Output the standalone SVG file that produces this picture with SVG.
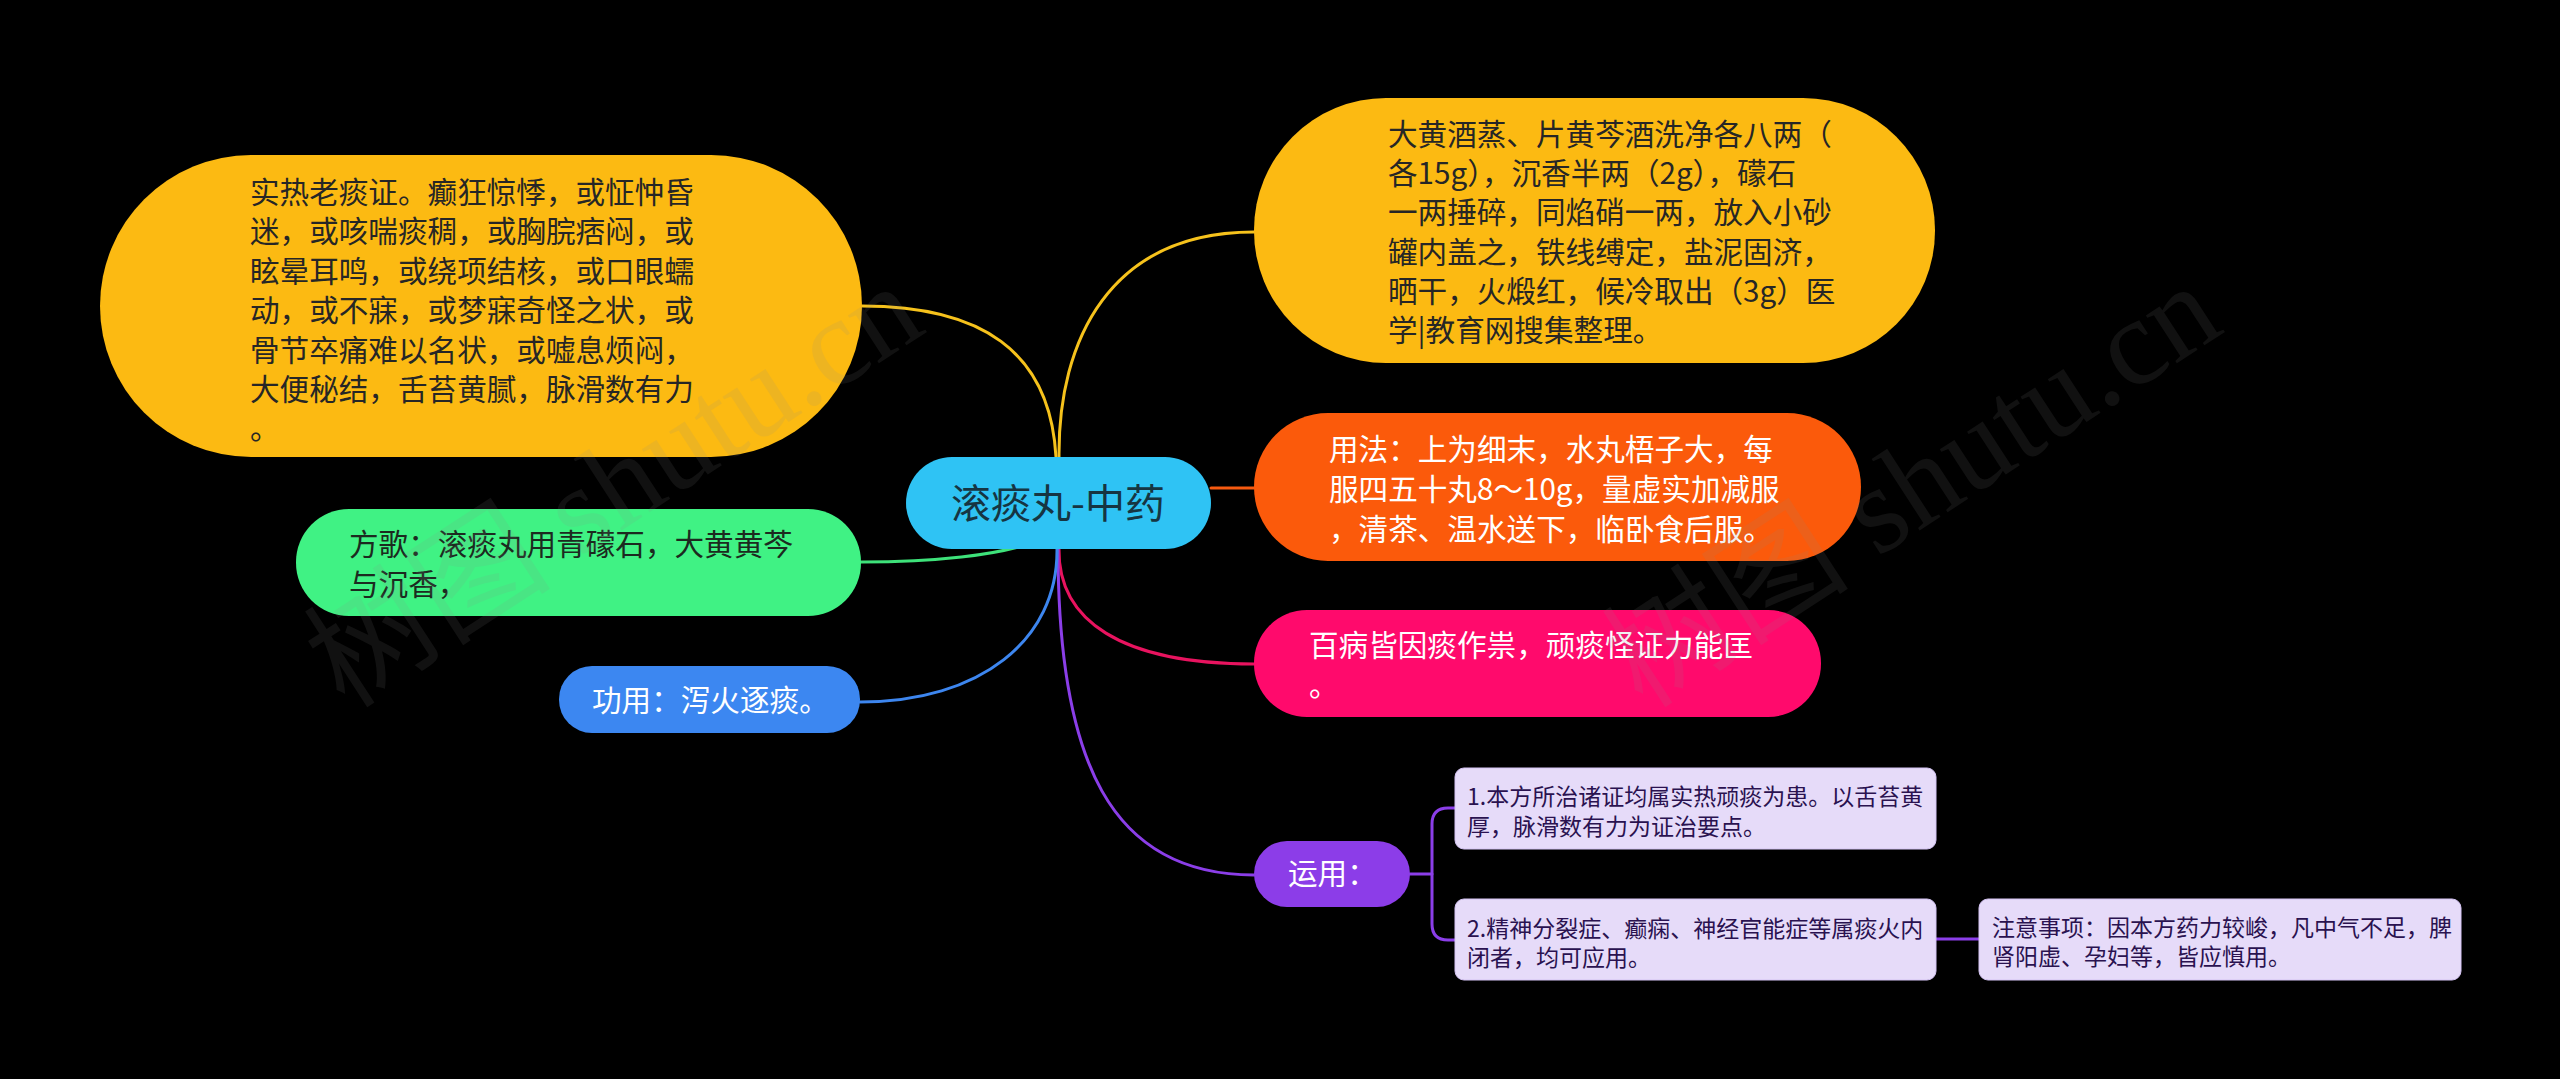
<svg xmlns="http://www.w3.org/2000/svg" width="2560" height="1079" viewBox="0 0 2560 1079">
<style>
text{font-family:"Noto Sans CJK SC","Microsoft YaHei",sans-serif;}
.t{font-size:29.6px;}
.s{font-size:23px;fill:#2a1250;}
.dk{fill:#262626;}
.wt{fill:#ffffff;}
.ln{fill:none;stroke-width:3;stroke-linecap:round;}
.ch{fill:#e6dbf9;stroke:#d4c3f3;stroke-width:1;}
.wm{font-family:"Liberation Serif","Noto Sans CJK SC",serif;font-size:124px;fill:#8a8a8a;opacity:0.12;}
</style>
<rect x="0" y="0" width="2560" height="1079" fill="#000000"/>
<g id="connectors">
<path class="ln" stroke="#f6c21c" d="M1056,457 C1050,350 980,306 862,306"/>
<path class="ln" stroke="#f6c21c" d="M1059,457 C1058,340 1110,232 1254,232"/>
<path class="ln" stroke="#f65a10" d="M1211,488 L1254,488"/>
<path class="ln" stroke="#e8135f" d="M1059,549 C1058,620 1120,664 1254,664"/>
<path class="ln" stroke="#8b3ee8" d="M1058,549 C1058,760 1110,875 1254,875"/>
<path class="ln" stroke="#3ee27a" d="M1040,540 C1000,556 930,562 861,562"/>
<path class="ln" stroke="#3d86ef" d="M1057,549 C1058,640 980,702 860,702"/>
<path class="ln" stroke="#8b3ee8" d="M1410,874 H1432"/>
<path class="ln" stroke="#8b3ee8" d="M1455,808 H1448 Q1432,808 1432,824 V924 Q1432,940 1448,940 H1455"/>
<path class="ln" stroke="#8b3ee8" d="M1936,939 H1979"/>
</g>
<g id="node-center">
<rect x="906" y="457" width="305" height="92" rx="46" fill="#2fc3f4"/>
<text x="1058" y="518" font-size="40" text-anchor="middle" fill="#163542">滚痰丸-中药</text>
</g>
<g id="node-zhengzhuang">
<rect x="100" y="155" width="762" height="302" rx="151" fill="#fcba12"/>
<text class="t dk" x="250" y="203">实热老痰证。癫狂惊悸，或怔忡昏</text>
<text class="t dk" x="250" y="242">迷，或咳喘痰稠，或胸脘痞闷，或</text>
<text class="t dk" x="250" y="282">眩晕耳鸣，或绕项结核，或口眼蠕</text>
<text class="t dk" x="250" y="321">动，或不寐，或梦寐奇怪之状，或</text>
<text class="t dk" x="250" y="361">骨节卒痛难以名状，或嘘息烦闷，</text>
<text class="t dk" x="250" y="400">大便秘结，舌苔黄腻，脉滑数有力</text>
<text class="t dk" x="250" y="439">。</text>
</g>
<g id="node-zucheng">
<rect x="1254" y="98" width="681" height="265" rx="132" fill="#fcba12"/>
<text class="t dk" x="1388" y="145">大黄酒蒸、片黄芩酒洗净各八两（</text>
<text class="t dk" x="1388" y="184">各15g），沉香半两（2g），礞石</text>
<text class="t dk" x="1388" y="223">一两捶碎，同焰硝一两，放入小砂</text>
<text class="t dk" x="1388" y="263">罐内盖之，铁线缚定，盐泥固济，</text>
<text class="t dk" x="1388" y="302">晒干，火煅红，候冷取出（3g）医</text>
<text class="t dk" x="1388" y="341">学|教育网搜集整理。</text>
</g>
<g id="node-yongfa">
<rect x="1254" y="413" width="607" height="148" rx="74" fill="#fb5a0b"/>
<text class="t wt" x="1329" y="460">用法：上为细末，水丸梧子大，每</text>
<text class="t wt" x="1329" y="500">服四五十丸8～10g，量虚实加减服</text>
<text class="t wt" x="1329" y="540">，清茶、温水送下，临卧食后服。</text>
</g>
<g id="node-baibing">
<rect x="1254" y="610" width="567" height="107" rx="53" fill="#ff0a6c"/>
<text class="t wt" x="1309" y="656">百病皆因痰作祟，顽痰怪证力能匡</text>
<text class="t wt" x="1309" y="696">。</text>
</g>
<g id="node-fangge">
<rect x="296" y="509" width="565" height="107" rx="53" fill="#40f284"/>
<text class="t" x="349" y="555" fill="#1c2a20">方歌：滚痰丸用青礞石，大黄黄芩</text>
<text class="t" x="349" y="595" fill="#1c2a20">与沉香，</text>
</g>
<g id="node-gongyong">
<rect x="559" y="666" width="301" height="67" rx="33" fill="#3c87f1"/>
<text class="t wt" x="592" y="711">功用：泻火逐痰。</text>
</g>
<g id="node-yunyong">
<rect x="1254" y="841" width="156" height="66" rx="33" fill="#8c3de8"/>
<text class="t wt" x="1288" y="884">运用：</text>
</g>
<g id="node-yy1">
<rect class="ch" x="1455" y="768" width="481" height="81" rx="9"/>
<text class="s" x="1467" y="805">1.本方所治诸证均属实热顽痰为患。以舌苔黄</text>
<text class="s" x="1467" y="835">厚，脉滑数有力为证治要点。</text>
</g>
<g id="node-yy2">
<rect class="ch" x="1455" y="899" width="481" height="81" rx="9"/>
<text class="s" x="1467" y="937">2.精神分裂症、癫痫、神经官能症等属痰火内</text>
<text class="s" x="1467" y="966">闭者，均可应用。</text>
</g>
<g id="node-zhuyi">
<rect class="ch" x="1979" y="899" width="482" height="81" rx="9"/>
<text class="s" x="1992" y="936">注意事项：因本方药力较峻，凡中气不足，脾</text>
<text class="s" x="1992" y="965">肾阳虚、孕妇等，皆应慎用。</text>
</g>
<g id="watermark">
<text class="wm" transform="translate(345,710) rotate(-33)">树图 shutu.cn</text>
<text class="wm" transform="translate(1643,710) rotate(-33)">树图 shutu.cn</text>
</g>
</svg>
